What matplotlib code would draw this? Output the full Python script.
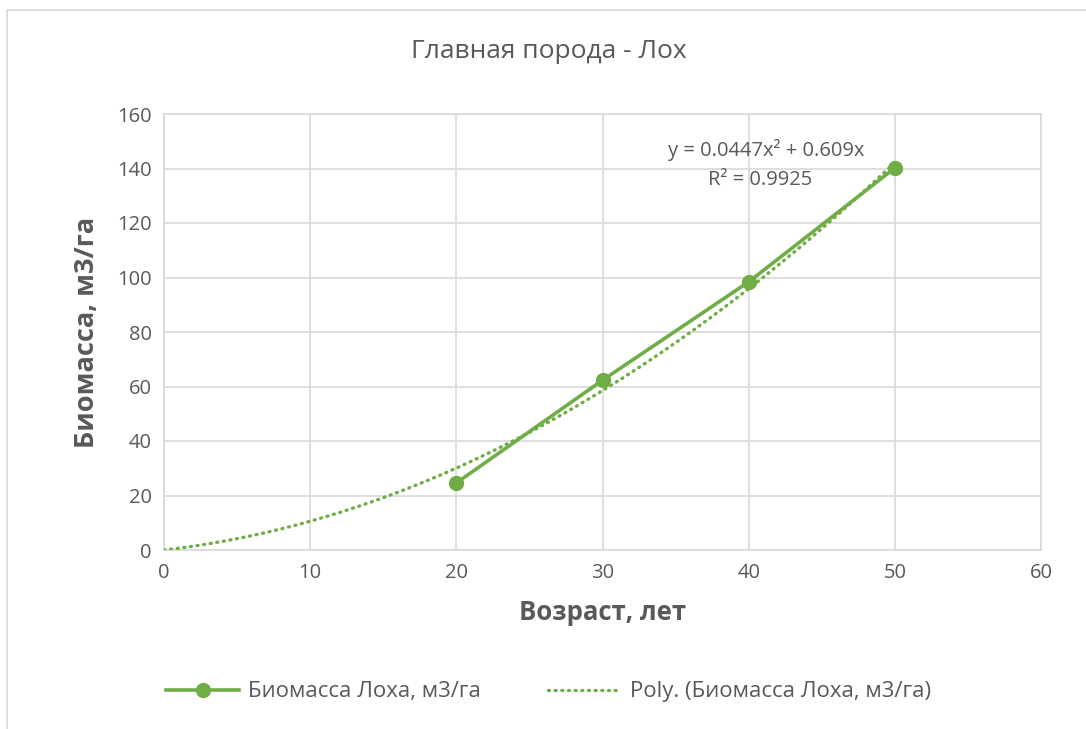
import numpy as np
import matplotlib
matplotlib.use("Agg")
import matplotlib.pyplot as plt
from matplotlib.patches import Rectangle

plt.rcParams['font.family'] = ['Open Sans', 'DejaVu Sans']

# data
age = [20, 30, 40, 50]
biomass = [24.6, 62.3, 98.4, 140.2]
trend_a = 0.0447
trend_b = 0.609
x_ticks = [0, 10, 20, 30, 40, 50, 60]
y_ticks = [0, 20, 40, 60, 80, 100, 120, 140, 160]

green = '#70AD47'
grey_txt = '#595959'
grid_c = '#D9D9D9'

fig = plt.figure(figsize=(10.86, 7.29), dpi=100)
ax = fig.add_axes([164 / 1086, 1 - 550 / 729, (1041 - 164) / 1086, (550 - 114) / 729])

# outer chart border
fig.patches.append(Rectangle((7 / 1086, -0.05), 1.1, 1 - 10 / 729 + 0.05,
                             transform=fig.transFigure, fill=False,
                             edgecolor='#D9D9D9', lw=1.2))

xt = np.linspace(0, 50, 200)
yt = trend_a * xt ** 2 + trend_b * xt
ax.plot(xt, yt, color=green, lw=2.4, linestyle=(0, (0.3, 1.7)),
        dash_capstyle='round', label='Poly. (Биомасса Лоха, м3/га)', zorder=3)
ax.plot(age, biomass, color=green, lw=2.6, marker='o', ms=10,
        label='Биомасса Лоха, м3/га', zorder=4)

ax.set_xlim(0, 60)
ax.set_ylim(0, 160)
ax.set_xticks(x_ticks)
ax.set_yticks(y_ticks)
ax.grid(True, color=grid_c, lw=1.2)
ax.set_axisbelow(True)
for s in ax.spines.values():
    s.set_color(grid_c)
    s.set_linewidth(1.2)
ax.tick_params(length=0, labelsize=14.5, colors=grey_txt, pad=9)

ax.set_xlabel('Возраст, лет', fontsize=18.5, fontweight='bold', color=grey_txt, labelpad=12)
ax.set_ylabel('Биомасса, м3/га', fontsize=19.5, fontweight='bold', color=grey_txt, labelpad=12)
fig.text(0.505, 1 - 52 / 729, 'Главная порода - Лох', ha='center', va='center',
         fontsize=19, color=grey_txt)

ax.text(766 / 1086, 1 - 150 / 729, 'y = 0.0447x² + 0.609x', transform=fig.transFigure,
        ha='center', va='center', fontsize=14.5, color=grey_txt)
ax.text(760 / 1086, 1 - 180 / 729, 'R² = 0.9925', transform=fig.transFigure,
        ha='center', va='center', fontsize=14.5, color=grey_txt)

h, l = ax.get_legend_handles_labels()
fig.legend(h[::-1], l[::-1], loc='center', bbox_to_anchor=(0.505, 1 - 692 / 729),
           ncol=2, frameon=False, fontsize=16, labelcolor=grey_txt,
           handlelength=3.3, handletextpad=0.4, columnspacing=3.0)

fig.savefig('out.png', dpi=100)
